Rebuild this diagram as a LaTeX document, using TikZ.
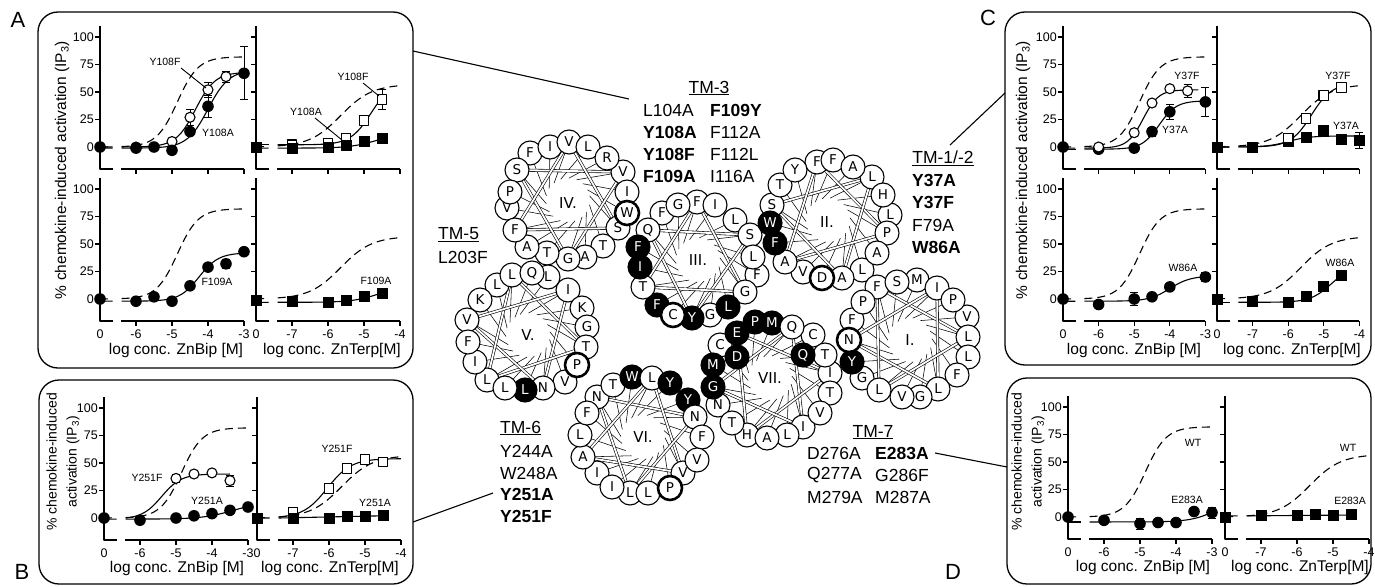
\documentclass[tikz,border=0pt]{standalone}
\usepackage{fontspec}
\setmainfont{Liberation Sans}
\newfontfamily\dv{DejaVu Sans}
\usetikzlibrary{calc}
\tikzset{
 box/.style={line width=1.3pt, rounded corners=20pt},
 ax/.style={line width=1.1pt},
 fit/.style={line width=1.1pt},
 wt/.style={line width=1.1pt, dash pattern=on 8pt off 5pt},
 ebs/.style={line width=1pt},
 ticklab/.style={font=\fontsize{12.5}{13}\selectfont, inner sep=0pt},
 xlab/.style={font=\fontsize{15.5}{16}\selectfont, inner sep=0pt},
 ylab/.style={font=\fontsize{15.5}{20}\selectfont, inner sep=0pt, rotate=90, align=center},
 ylabtwo/.style={font=\fontsize{14}{20}\selectfont, inner sep=0pt, rotate=90, align=center},
 ann/.style={font=\fontsize{10.5}{11}\selectfont, inner sep=0pt},
 tm/.style={font=\fontsize{17.5}{18}\selectfont, inner sep=0pt, anchor=west},
 tmh/.style={font=\fontsize{17.5}{18}\selectfont, inner sep=0pt},
 plab/.style={font=\fontsize{22}{22}\selectfont, inner sep=0pt},
 res/.style={circle, draw=black, minimum size=24pt, inner sep=0pt, font=\dv\fontsize{13.5}{14}\selectfont},
 wlab/.style={font=\dv\fontsize{15}{15}\selectfont, inner sep=0pt},
 chord/.style={line width=0.55pt},
 dchord/.style={line width=0.6pt, double=white, double distance=1.8pt},
 lead/.style={line width=0.9pt},
 conn/.style={line width=1.1pt}
}
\newcommand\hill[7]{\draw[#1] plot[domain=#2:#3,samples=40] (\x,{(#4)+((#5)-(#4))/(1+10^(min(4,((#6)-\x)*(#7))))});}
\newcommand\hilltwo[5]{\hill{fit}{0}{0.35}{#1}{#2}{#3}{#4}\hill{fit}{0.6}{#5}{#1}{#2}{#3}{#4}}
\newcommand\wtbip{\hill{wt}{0}{0.35}{0}{82}{2.15}{1.5}\hill{wt}{0.6}{4}{0}{82}{2.15}{1.5}}
\newcommand\wtterp{\hill{wt}{0}{0.35}{0}{57}{2.35}{1}\hill{wt}{0.6}{4}{0}{57}{2.35}{1}}
\newcommand\ebar[3]{\draw[ebs] (#1,{#2-#3}) -- (#1,{#2+#3});\draw[ebs] (#1,{#2-#3}) ++(-4pt,0) -- ++(8pt,0);\draw[ebs] (#1,{#2+#3}) ++(-4pt,0) -- ++(8pt,0);}
\newcommand\mOC[2]{\filldraw[fill=white,draw=black,line width=1.1pt] (#1,#2) circle[radius=5pt];}
\newcommand\mFC[2]{\fill[black] (#1,#2) circle[radius=5.8pt];}
\newcommand\mOS[2]{\filldraw[fill=white,draw=black,line width=1.1pt] (#1,#2) ++(-4.8pt,-4.8pt) rectangle ++(9.6pt,9.6pt);}
\newcommand\mFS[2]{\fill[black] (#1,#2) ++(-5.5pt,-5.5pt) rectangle ++(11pt,11pt);}
\newcommand\plotaxes{%
 \draw[ax] (0,110) -- (0,-20) -- (0.37,-20);
 \draw[ax] (0.58,-20) -- (4,-20);
 \foreach \yv in {0,25,50,75,100}{\draw[ax] (0,\yv) -- ++(-5pt,0);}
 \foreach \xu in {1,2,3,4}{\draw[ax] (\xu,-20) -- ++(0,-5pt);}
}
\newcommand\ylabs{\foreach \yv in {0,25,50,75,100}{\node[ticklab,anchor=east] at ([xshift=-6pt]0,\yv) {\yv};}}
\newcommand\xlabs[5]{\foreach \xu/\tlab in {0/#1,1/#2,2/#3,3/#4,4/#5}{\node[ticklab] at ([yshift=-13pt]\xu,-20) {\tlab};}}
\newcommand\wheellines[2]{%
 \foreach \i/\x/\y/\rl/\rk/\rz in #2 {\coordinate (#1\i) at (\x,\y);}%
 \foreach \i in {1,...,18}{%
   \draw[chord] (#1\i) -- ($(#1c)!22pt!40:(#1\i)$);
 }%
 \foreach \i in {1,4,7,10,13,16}{%
   \pgfmathtruncatemacro\jj{mod(\i+5,18)+1}%
   \draw[dchord] (#1\i) -- (#1\jj);
 }%
}
\newcommand\wheelres[2]{%
 \foreach \layer in {0,1,2}{%
  \foreach \i/\x/\y/\rl/\rk/\rz in #2 {%
   \ifnum\rz=\layer\relax
    \ifcase\rk\relax \def\rfc{white}\def\rtc{black}\def\rlw{1.1pt}%
    \or \def\rfc{black}\def\rtc{white}\def\rlw{1.1pt}%
    \or \def\rfc{white}\def\rtc{black}\def\rlw{2.6pt}\fi
    \node[res, fill=\rfc, text=\rtc, line width=\rlw] (#1r\i) at (#1\i) {\rl};
   \fi
  }%
 }%
}
\def\wIV{1/517/170/S/0/1,2/530/153/F/0/0,3/550/147/I/0/1,4/569/142/V/0/1,5/588/147/L/0/1,6/607/158/R/0/1,7/623/172/V/0/0,8/627/192/I/0/1,9/627/213/W/2/2,10/618/228/S/0/1,11/603/246/T/0/1,12/585/257/A/0/1,13/568/259/G/0/1,14/547/253/T/0/1,15/527/247/A/0/1,16/515/230/F/0/1,17/507/208/V/0/0,18/510/192/P/0/1}
\def\wIII{1/648/230/Q/0/1,2/662/213/F/0/0,3/678/205/G/0/1,4/697/202/F/0/0,5/715/205/I/0/1,6/735/220/L/0/1,7/750/235/S/0/1,8/753/257/L/0/1,9/757/275/F/0/0,10/745/292/G/0/1,11/728/307/L/1/1,12/710/315/G/0/0,13/692/318/Y/1/1,14/673/315/C/2/2,15/657/305/F/1/1,16/643/287/T/0/1,17/640/267/I/1/1,18/638/247/F/1/1}
\def\wII{1/772/205/S/0/0,2/780/185/T/0/1,3/795/170/Y/0/1,4/817/162/F/0/0,5/833/160/F/0/1,6/853/167/A/0/1,7/872/177/L/0/0,8/883/195/H/0/1,9/890/215/L/0/0,10/887/233/P/0/1,11/877/253/A/0/1,12/862/270/L/0/0,13/842/278/A/0/1,14/822/278/D/2/2,15/803/272/V/0/0,16/785/262/A/0/1,17/775/243/F/1/1,18/770/223/W/1/1}
\def\wI{1/877/287/F/0/0,2/897/282/S/0/1,3/917/280/M/0/0,4/937/288/I/0/1,5/953/300/P/0/1,6/967/317/V/0/0,7/968/337/L/0/1,8/968/357/L/0/1,9/957/375/F/0/1,10/938/389/L/0/1,11/920/397/G/0/1,12/902/397/V/0/1,13/879/390/L/0/1,14/862/378/G/0/0,15/852/362/Y/1/1,16/849/340/N/2/2,17/852/320/F/0/1,18/863/302/P/0/1}
\def\wVII{1/792/327/Q/0/2,2/813/335/C/0/0,3/825/355/T/0/1,4/830/373/I/0/0,5/830/393/T/0/1,6/820/413/V/0/1,7/803/427/I/0/0,8/787/435/L/0/1,9/767/438/A/0/1,10/747/435/H/0/0,11/732/423/T/0/1,12/718/405/N/0/0,13/713/387/G/1/1,14/713/365/M/1/1,15/720/345/C/0/0,16/737/333/E/1/2,17/755/322/P/1/0,18/772/323/M/1/1,19/737/357/D/1/2,20/803/355/Q/1/2}
\def\wVI{1/597/397/N/0/0,2/613/385/T/0/1,3/632/377/W/1/1,4/652/378/L/0/1,5/670/383/Y/1/1,6/688/400/Y/1/1,7/695/417/N/0/1,8/702/437/F/0/1,9/697/460/V/0/1,10/683/473/V/0/0,11/670/488/P/2/2,12/648/493/L/0/1,13/630/493/L/0/0,14/612/487/I/0/1,15/597/473/I/0/0,16/583/457/A/0/1,17/580/435/L/0/1,18/587/413/F/0/1}
\def\wV{1/512/275/L/0/1,2/532/273/Q/0/1,3/548/277/L/0/0,4/568/290/I/0/1,5/582/308/K/0/1,6/587/327/G/0/1,7/586/347/T/0/1,8/577/365/P/2/2,9/565/382/V/0/1,10/543/388/N/0/1,11/525/390/L/1/1,12/505/388/L/0/1,13/487/380/L/0/0,14/475/362/I/0/1,15/468/342/F/0/1,16/467/320/V/0/0,17/480/300/K/0/1,18/497/285/L/0/0}
\begin{document}
\begin{tikzpicture}[x=1pt,y=-1pt,line join=round]
\useasboundingbox (0,0) rectangle (1375,586);
% ---------- panel boxes ----------
\draw[box] (38,12) rectangle (413,368);
\draw[box] (39,380) rectangle (413,584);
\draw[box] (1005,12) rectangle (1371,365);
\draw[box] (1007,378) rectangle (1371,584);
\node[plab] (pA) at (18,20) {A};
\node[plab] (pB) at (22,572) {B};
\node[plab] (pC) at (988,18) {C};
\node[plab] (pD) at (953,572) {D};
% ---------- panel A ----------
\begin{scope}[shift={(100,147)},x=36pt,y=1.1pt]
 \plotaxes \ylabs \wtbip
 \ebar{2.5}{27}{7}\ebar{3}{52}{7}\ebar{3.5}{64}{5}
 \ebar{2.5}{14}{3}\ebar{3}{37}{10}\ebar{4}{67}{24}
 \hilltwo{0}{68}{2.65}{1.6}{4}
 \hilltwo{-1}{70}{3.0}{1.5}{4}
 \foreach \ua/\va in {1/0,2/5,2.5/27,3/52,3.5/64}{\mOC{\ua}{\va}}
 \foreach \ua/\va in {0/0,1/-1,1.5/0,2/-3,2.5/14,3/37,4/67}{\mFC{\ua}{\va}}
\end{scope}
\begin{scope}[shift={(256,147)},x=36pt,y=1.1pt]
 \plotaxes \wtterp
 \ebar{3.5}{43}{9}
 \hilltwo{2}{60}{3.2}{1.5}{3.5}
 \hilltwo{-1}{12}{3.3}{1.2}{3.5}
 \foreach \ua/\va in {1/2,2/3,2.5/8,3/24,3.5/43}{\mOS{\ua}{\va}}
 \foreach \ua/\va in {0/0,1/-1,2/0,2.5/1,3/5,3.5/8}{\mFS{\ua}{\va}}
\end{scope}
\begin{scope}[shift={(100,299)},x=36pt,y=1.1pt]
 \plotaxes \ylabs \xlabs{0}{-6}{-5}{-4}{-3} \wtbip
 \ebar{3.5}{32}{4}\ebar{4}{43}{3}
 \hilltwo{-2}{42}{2.75}{1.6}{4}
 \foreach \ua/\va in {0/0,1/-2,1.5/2,2/-2,2.5/12,3/29,3.5/32,4/43}{\mFC{\ua}{\va}}
\end{scope}
\begin{scope}[shift={(256,299)},x=36pt,y=1.1pt]
 \plotaxes \xlabs{0}{-7}{-6}{-5}{-4} \wtterp
 \hilltwo{-3}{12}{3.4}{1.2}{3.5}
 \foreach \ua/\va in {0/-1,1/-2,2/-3,2.5/-1,3/2,3.5/5}{\mFS{\ua}{\va}}
\end{scope}
\node[ann] (lA1) at (165,62) {Y108F};
\coordinate (lA1a) at (181,68); \coordinate (lA1b) at (206,88);
\draw[lead] (lA1a) -- (lA1b);
\node[ann] (lA2) at (218,133) {Y108A};
\node[ann] (lA3) at (353,77) {Y108F};
\coordinate (lA3a) at (363,83); \coordinate (lA3b) at (379,96);
\draw[lead] (lA3a) -- (lA3b);
\node[ann] (lA4) at (306,112) {Y108A};
\coordinate (lA4a) at (315,118); \coordinate (lA4b) at (342,140);
\draw[lead] (lA4a) -- (lA4b);
\node[ann] (lA5) at (217,282) {F109A};
\node[ann] (lA6) at (376,281) {F109A};
\node[xlab] (xA1) at (176,350) {log conc. ZnBip [M]};
\node[xlab] (xA2) at (332,350) {log conc. ZnTerp[M]};
\node[ylab] (yA) at (62,170) {\% chemokine-induced activation (IP\textsubscript{3})};
% ---------- panel B ----------
\begin{scope}[shift={(104,518)},x=36pt,y=1.1pt]
 \plotaxes \ylabs \xlabs{0}{-6}{-5}{-4}{-3} \wtbip
 \ebar{2}{36}{4}\ebar{2.5}{40}{3}\ebar{3.5}{34}{5}
 \hill{fit}{0.6}{3.5}{-1}{40}{1.6}{1.6}
 \hilltwo{-1}{15}{3.6}{1}{4}
 \foreach \ua/\va in {2/36,2.5/40,3/41,3.5/34}{\mOC{\ua}{\va}}
 \foreach \ua/\va in {0/0,1/-2,2/0,2.5/2,3/4,3.5/7,4/10}{\mFC{\ua}{\va}}
\end{scope}
\begin{scope}[shift={(257,518)},x=36pt,y=1.1pt]
 \plotaxes \xlabs{0}{-7}{-6}{-5}{-4} \wtterp
 \hill{fit}{0.6}{4}{0}{54}{1.95}{1.3}
 \draw[fit] (0,0) -- (0.35,0) (0.6,0) -- (3.5,2);
 \foreach \ua/\va in {1/5,2/27,2.5/45,3/53,3.5/51}{\mOS{\ua}{\va}}
 \foreach \ua/\va in {0/0,1/0,2/0,2.5/1,3/1,3.5/2}{\mFS{\ua}{\va}}
\end{scope}
\node[ann] (lB1) at (147,478) {Y251F};
\node[ann] (lB2) at (207,501) {Y251A};
\node[ann] (lB3) at (337,449) {Y251F};
\node[ann] (lB4) at (375,503) {Y251A};
\node[xlab] (xB1) at (177,568) {log conc. ZnBip [M]};
\node[xlab] (xB2) at (330,568) {log conc. ZnTerp[M]};
\node[ylabtwo] (yB) at (63,462) {\% chemokine-induced\\activation (IP\textsubscript{3})};
% ---------- panel C ----------
\begin{scope}[shift={(1063,147)},x=35.6pt,y=1.1pt]
 \plotaxes \ylabs \wtbip
 \ebar{3.5}{51}{6}\ebar{2.5}{14}{4}\ebar{3}{32}{7}\ebar{4}{41}{13}
 \hilltwo{-1}{52}{2.25}{2}{3.8}
 \hilltwo{-2}{42}{2.7}{1.8}{4}
 \foreach \ua/\va in {0/0,1/-2,2/-1,2.5/14,3/32,4/41}{\mFC{\ua}{\va}}
 \foreach \ua/\va in {1/0,2/13,2.5/40,3/53,3.5/51}{\mOC{\ua}{\va}}
\end{scope}
\begin{scope}[shift={(1217,147)},x=35.6pt,y=1.1pt]
 \plotaxes \wtterp
 \ebar{2.5}{26}{4}\ebar{3}{15}{5}\ebar{4}{6}{7}
 \hilltwo{0}{58}{2.65}{1.5}{3.5}
 \hilltwo{0}{10}{2.0}{1.5}{4}
 \foreach \ua/\va in {0/0,1/0,2/5,2.5/9,3/15,3.5/7,4/6}{\mFS{\ua}{\va}}
 \foreach \ua/\va in {2/8,2.5/26,3/47,3.5/54}{\mOS{\ua}{\va}}
\end{scope}
\begin{scope}[shift={(1063,299)},x=35.6pt,y=1.1pt]
 \plotaxes \ylabs \xlabs{0}{-6}{-5}{-4}{-3} \wtbip
 \ebar{2}{0}{6}\ebar{2.5}{2}{3}\ebar{3}{11}{3}\ebar{4}{20}{4}
 \hilltwo{-2}{21}{3.0}{1.5}{4}
 \foreach \ua/\va in {0/0,1/-5,2/0,2.5/2,3/11,4/20}{\mFC{\ua}{\va}}
\end{scope}
\begin{scope}[shift={(1217,299)},x=35.6pt,y=1.1pt]
 \plotaxes \xlabs{0}{-7}{-6}{-5}{-4} \wtterp
 \hilltwo{-3}{30}{3.2}{1.5}{3.5}
 \foreach \ua/\va in {0/0,1/-2,2/-3,2.5/2,3/11,3.5/21}{\mFS{\ua}{\va}}
\end{scope}
\node[ann] (lC1) at (1187,76) {Y37F};
\node[ann] (lC2) at (1175,130) {Y37A};
\node[ann] (lC3) at (1338,76) {Y37F};
\node[ann] (lC4) at (1346,126) {Y37A};
\node[ann] (lC5) at (1183,268) {W86A};
\node[ann] (lC6) at (1340,263) {W86A};
\node[xlab] (xC1) at (1134,350) {log conc. ZnBip [M]};
\node[xlab] (xC2) at (1292,350) {log conc. ZnTerp[M]};
\node[ylab] (yC) at (1023,170) {\% chemokine-induced activation (IP\textsubscript{3})};
% ---------- panel D ----------
\begin{scope}[shift={(1068,517)},x=36pt,y=1.1pt]
 \plotaxes \ylabs \xlabs{0}{-6}{-5}{-4}{-3} \wtbip
 \ebar{2}{-6}{5}\ebar{4}{4}{5}
 \hilltwo{-4.5}{20}{4.2}{1.2}{4}
 \foreach \ua/\va in {0/0,1/-3,2/-6,2.5/-5,3/-5,3.5/5,4/4}{\mFC{\ua}{\va}}
\end{scope}
\begin{scope}[shift={(1225,517)},x=36pt,y=1.1pt]
 \plotaxes \xlabs{0}{-7}{-6}{-5}{-4} \wtterp
 \draw[fit] (0,1) -- (0.35,1) (0.6,1) -- (3.5,1.8);
 \foreach \ua/\va in {0/0,1/1,2/1,2.5/2,3/1,3.5/2}{\mFS{\ua}{\va}}
\end{scope}
\node[ann] (lD1) at (1193,443) {WT};
\node[ann] (lD2) at (1187,500) {E283A};
\node[ann] (lD3) at (1348,448) {WT};
\node[ann] (lD4) at (1350,501) {E283A};
\node[xlab] (xD1) at (1143,567) {log conc. ZnBip [M]};
\node[xlab] (xD2) at (1300,567) {log conc. ZnTerp[M]};
\node[ylabtwo] (yD) at (1028,462) {\% chemokine-induced\\activation (IP\textsubscript{3})};
% ---------- helical wheels ----------
\coordinate (hDc) at (568,200);
\coordinate (hCc) at (698,260);
\coordinate (hBc) at (828,220);
\coordinate (hAc) at (910,340);
\coordinate (hGc) at (770,378);
\coordinate (hFc) at (643,437);
\coordinate (hEc) at (528,335);
\wheellines{hD}{\wIV}
\wheellines{hC}{\wIII}
\wheellines{hB}{\wII}
\wheellines{hA}{\wI}
\wheellines{hG}{\wVII}
\wheellines{hF}{\wVI}
\wheellines{hE}{\wV}
\wheelres{hD}{\wIV}
\wheelres{hC}{\wIII}
\wheelres{hB}{\wII}
\wheelres{hA}{\wI}
\wheelres{hG}{\wVII}
\wheelres{hF}{\wVI}
\wheelres{hE}{\wV}
\node[wlab] (hDl) at (568,203) {IV.};
\node[wlab] (hCl) at (698,260) {III.};
\node[wlab] (hBl) at (827,222) {II.};
\node[wlab] (hAl) at (910,340) {I.};
\node[wlab] (hGl) at (770,378) {VII.};
\node[wlab] (hFl) at (643,437) {VI.};
\node[wlab] (hEl) at (528,335) {V.};
% ---------- TM texts ----------
\node[tmh] (tm3) at (709,88) {\underline{TM-3}};
\node[tm] (t3a) at (643,110) {L104A};
\node[tm] (t3b) at (710,110) {\textbf{F109Y}};
\node[tm] (t3c) at (643,132) {\textbf{Y108A}};
\node[tm] (t3d) at (710,132) {F112A};
\node[tm] (t3e) at (643,154) {\textbf{Y108F}};
\node[tm] (t3f) at (710,154) {F112L};
\node[tm] (t3g) at (643,176) {\textbf{F109A}};
\node[tm] (t3h) at (710,176) {I116A};
\node[tmh] (tm12) at (943,158) {\underline{TM-1/-2}};
\node[tm] (t1a) at (912,180) {\textbf{Y37A}};
\node[tm] (t1b) at (912,202) {\textbf{Y37F}};
\node[tm] (t1c) at (912,225) {F79A};
\node[tm] (t1d) at (912,247) {\textbf{W86A}};
\node[tm] (tm5) at (438,235) {\underline{TM-5}};
\node[tm] (t5a) at (438,257) {L203F};
\node[tm] (tm6) at (500,428) {\underline{TM-6}};
\node[tm] (t6a) at (500,451) {Y244A};
\node[tm] (t6b) at (500,473) {W248A};
\node[tm] (t6c) at (500,494) {\textbf{Y251A}};
\node[tm] (t6d) at (500,516) {\textbf{Y251F}};
\node[tmh] (tm7) at (873,432) {\underline{TM-7}};
\node[tm] (t7a) at (807,453) {D276A};
\node[tm] (t7b) at (875,453) {\textbf{E283A}};
\node[tm] (t7c) at (807,475) {Q277A};
\node[tm] (t7d) at (875,475) {G286F};
\node[tm] (t7e) at (807,497) {M279A};
\node[tm] (t7f) at (875,497) {M287A};
% ---------- connectors ----------
\coordinate (cA1) at (413,51); \coordinate (cA2) at (629,99);
\draw[conn] (cA1) -- (cA2);
\coordinate (cC1) at (950,145); \coordinate (cC2) at (1005,93);
\draw[conn] (cC1) -- (cC2);
\coordinate (cB1) at (493,493); \coordinate (cB2) at (413,522);
\draw[conn] (cB1) -- (cB2);
\coordinate (cD1) at (935,453); \coordinate (cD2) at (1007,467);
\draw[conn] (cD1) -- (cD2);
\end{tikzpicture}
\end{document}
